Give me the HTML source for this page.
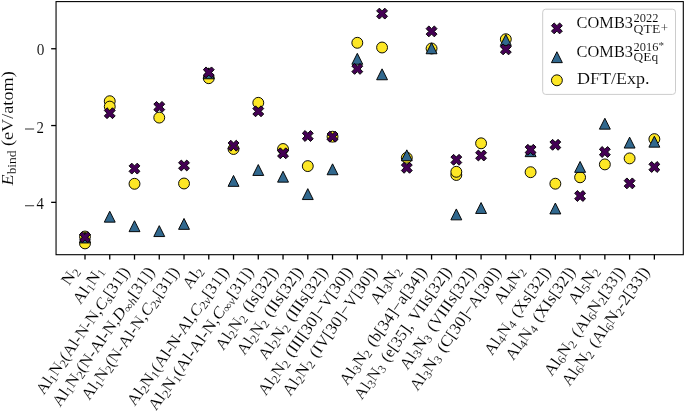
<!DOCTYPE html>
<html><head><meta charset="utf-8"><style>html,body{margin:0;padding:0;background:#fff;}</style></head><body>
<svg width="685" height="411" viewBox="0 0 685 411" style="display:block;font-family:'Liberation Serif', serif;will-change:transform">
<style>text{fill:#000;stroke:#fff;stroke-width:0.1px;}</style>
<rect x="0" y="0" width="685" height="411" fill="#fff"/>
<circle cx="85.00" cy="236.50" r="5.45" fill="#fde725" stroke="#000" stroke-width="0.95"/>
<circle cx="85.00" cy="243.40" r="5.45" fill="#fde725" stroke="#000" stroke-width="0.95"/>
<circle cx="109.75" cy="101.20" r="5.45" fill="#fde725" stroke="#000" stroke-width="0.95"/>
<circle cx="109.75" cy="106.60" r="5.45" fill="#fde725" stroke="#000" stroke-width="0.95"/>
<circle cx="134.51" cy="183.80" r="5.45" fill="#fde725" stroke="#000" stroke-width="0.95"/>
<circle cx="159.26" cy="117.60" r="5.45" fill="#fde725" stroke="#000" stroke-width="0.95"/>
<circle cx="184.02" cy="183.50" r="5.45" fill="#fde725" stroke="#000" stroke-width="0.95"/>
<circle cx="208.77" cy="78.20" r="5.45" fill="#fde725" stroke="#000" stroke-width="0.95"/>
<circle cx="233.53" cy="149.00" r="5.45" fill="#fde725" stroke="#000" stroke-width="0.95"/>
<circle cx="258.28" cy="102.80" r="5.45" fill="#fde725" stroke="#000" stroke-width="0.95"/>
<circle cx="283.04" cy="149.00" r="5.45" fill="#fde725" stroke="#000" stroke-width="0.95"/>
<circle cx="307.79" cy="166.10" r="5.45" fill="#fde725" stroke="#000" stroke-width="0.95"/>
<circle cx="332.55" cy="136.70" r="5.45" fill="#fde725" stroke="#000" stroke-width="0.95"/>
<circle cx="357.31" cy="42.80" r="5.45" fill="#fde725" stroke="#000" stroke-width="0.95"/>
<circle cx="382.06" cy="47.50" r="5.45" fill="#fde725" stroke="#000" stroke-width="0.95"/>
<circle cx="406.81" cy="157.80" r="5.45" fill="#fde725" stroke="#000" stroke-width="0.95"/>
<circle cx="431.57" cy="48.50" r="5.45" fill="#fde725" stroke="#000" stroke-width="0.95"/>
<circle cx="456.32" cy="175.00" r="5.45" fill="#fde725" stroke="#000" stroke-width="0.95"/>
<circle cx="456.32" cy="171.80" r="5.45" fill="#fde725" stroke="#000" stroke-width="0.95"/>
<circle cx="481.08" cy="143.30" r="5.45" fill="#fde725" stroke="#000" stroke-width="0.95"/>
<circle cx="505.83" cy="39.20" r="5.45" fill="#fde725" stroke="#000" stroke-width="0.95"/>
<circle cx="530.59" cy="172.20" r="5.45" fill="#fde725" stroke="#000" stroke-width="0.95"/>
<circle cx="555.35" cy="183.70" r="5.45" fill="#fde725" stroke="#000" stroke-width="0.95"/>
<circle cx="580.10" cy="177.30" r="5.45" fill="#fde725" stroke="#000" stroke-width="0.95"/>
<circle cx="604.86" cy="164.40" r="5.45" fill="#fde725" stroke="#000" stroke-width="0.95"/>
<circle cx="629.61" cy="158.40" r="5.45" fill="#fde725" stroke="#000" stroke-width="0.95"/>
<circle cx="654.37" cy="139.10" r="5.45" fill="#fde725" stroke="#000" stroke-width="0.95"/>
<polygon points="85.00,232.05 79.55,242.95 90.45,242.95" fill="#31688e" stroke="#000" stroke-width="0.95" stroke-linejoin="miter"/>
<polygon points="109.75,211.25 104.30,222.15 115.20,222.15" fill="#31688e" stroke="#000" stroke-width="0.95" stroke-linejoin="miter"/>
<polygon points="134.51,220.75 129.06,231.65 139.96,231.65" fill="#31688e" stroke="#000" stroke-width="0.95" stroke-linejoin="miter"/>
<polygon points="159.26,225.65 153.81,236.55 164.71,236.55" fill="#31688e" stroke="#000" stroke-width="0.95" stroke-linejoin="miter"/>
<polygon points="184.02,218.45 178.57,229.35 189.47,229.35" fill="#31688e" stroke="#000" stroke-width="0.95" stroke-linejoin="miter"/>
<polygon points="208.77,67.85 203.32,78.75 214.22,78.75" fill="#31688e" stroke="#000" stroke-width="0.95" stroke-linejoin="miter"/>
<polygon points="233.53,175.45 228.08,186.35 238.98,186.35" fill="#31688e" stroke="#000" stroke-width="0.95" stroke-linejoin="miter"/>
<polygon points="258.28,164.55 252.83,175.45 263.73,175.45" fill="#31688e" stroke="#000" stroke-width="0.95" stroke-linejoin="miter"/>
<polygon points="283.04,171.25 277.59,182.15 288.49,182.15" fill="#31688e" stroke="#000" stroke-width="0.95" stroke-linejoin="miter"/>
<polygon points="307.79,188.65 302.34,199.55 313.24,199.55" fill="#31688e" stroke="#000" stroke-width="0.95" stroke-linejoin="miter"/>
<polygon points="332.55,163.85 327.10,174.75 338.00,174.75" fill="#31688e" stroke="#000" stroke-width="0.95" stroke-linejoin="miter"/>
<polygon points="357.31,53.35 351.86,64.25 362.75,64.25" fill="#31688e" stroke="#000" stroke-width="0.95" stroke-linejoin="miter"/>
<polygon points="382.06,68.85 376.61,79.75 387.51,79.75" fill="#31688e" stroke="#000" stroke-width="0.95" stroke-linejoin="miter"/>
<polygon points="406.81,149.85 401.37,160.75 412.26,160.75" fill="#31688e" stroke="#000" stroke-width="0.95" stroke-linejoin="miter"/>
<polygon points="431.57,42.85 426.12,53.75 437.02,53.75" fill="#31688e" stroke="#000" stroke-width="0.95" stroke-linejoin="miter"/>
<polygon points="456.32,208.95 450.88,219.85 461.77,219.85" fill="#31688e" stroke="#000" stroke-width="0.95" stroke-linejoin="miter"/>
<polygon points="481.08,202.55 475.63,213.45 486.53,213.45" fill="#31688e" stroke="#000" stroke-width="0.95" stroke-linejoin="miter"/>
<polygon points="505.83,34.55 500.38,45.45 511.28,45.45" fill="#31688e" stroke="#000" stroke-width="0.95" stroke-linejoin="miter"/>
<polygon points="530.59,145.75 525.14,156.65 536.04,156.65" fill="#31688e" stroke="#000" stroke-width="0.95" stroke-linejoin="miter"/>
<polygon points="555.35,203.05 549.89,213.95 560.80,213.95" fill="#31688e" stroke="#000" stroke-width="0.95" stroke-linejoin="miter"/>
<polygon points="580.10,161.45 574.65,172.35 585.55,172.35" fill="#31688e" stroke="#000" stroke-width="0.95" stroke-linejoin="miter"/>
<polygon points="604.86,118.25 599.40,129.15 610.31,129.15" fill="#31688e" stroke="#000" stroke-width="0.95" stroke-linejoin="miter"/>
<polygon points="629.61,137.15 624.16,148.05 635.06,148.05" fill="#31688e" stroke="#000" stroke-width="0.95" stroke-linejoin="miter"/>
<polygon points="654.37,136.25 648.91,147.15 659.82,147.15" fill="#31688e" stroke="#000" stroke-width="0.95" stroke-linejoin="miter"/>
<polygon points="82.28,231.75 85.00,234.47 87.72,231.75 90.45,234.47 87.72,237.20 90.45,239.92 87.72,242.65 85.00,239.92 82.28,242.65 79.55,239.92 82.28,237.20 79.55,234.47" fill="#440154" stroke="#000" stroke-width="0.95" stroke-linejoin="miter"/>
<polygon points="107.03,107.75 109.75,110.48 112.48,107.75 115.20,110.48 112.48,113.20 115.20,115.92 112.48,118.65 109.75,115.92 107.03,118.65 104.30,115.92 107.03,113.20 104.30,110.48" fill="#440154" stroke="#000" stroke-width="0.95" stroke-linejoin="miter"/>
<polygon points="131.78,163.15 134.51,165.88 137.23,163.15 139.96,165.88 137.23,168.60 139.96,171.32 137.23,174.05 134.51,171.32 131.78,174.05 129.06,171.32 131.78,168.60 129.06,165.88" fill="#440154" stroke="#000" stroke-width="0.95" stroke-linejoin="miter"/>
<polygon points="156.54,101.45 159.26,104.18 161.99,101.45 164.71,104.18 161.99,106.90 164.71,109.62 161.99,112.35 159.26,109.62 156.54,112.35 153.81,109.62 156.54,106.90 153.81,104.18" fill="#440154" stroke="#000" stroke-width="0.95" stroke-linejoin="miter"/>
<polygon points="181.29,160.05 184.02,162.78 186.74,160.05 189.47,162.78 186.74,165.50 189.47,168.22 186.74,170.95 184.02,168.22 181.29,170.95 178.57,168.22 181.29,165.50 178.57,162.78" fill="#440154" stroke="#000" stroke-width="0.95" stroke-linejoin="miter"/>
<polygon points="206.05,66.95 208.77,69.68 211.50,66.95 214.22,69.68 211.50,72.40 214.22,75.12 211.50,77.85 208.77,75.12 206.05,77.85 203.32,75.12 206.05,72.40 203.32,69.68" fill="#440154" stroke="#000" stroke-width="0.95" stroke-linejoin="miter"/>
<polygon points="230.81,140.25 233.53,142.97 236.25,140.25 238.98,142.97 236.25,145.70 238.98,148.42 236.25,151.15 233.53,148.42 230.81,151.15 228.08,148.42 230.81,145.70 228.08,142.97" fill="#440154" stroke="#000" stroke-width="0.95" stroke-linejoin="miter"/>
<polygon points="255.56,105.85 258.28,108.58 261.01,105.85 263.73,108.58 261.01,111.30 263.73,114.02 261.01,116.75 258.28,114.02 255.56,116.75 252.83,114.02 255.56,111.30 252.83,108.58" fill="#440154" stroke="#000" stroke-width="0.95" stroke-linejoin="miter"/>
<polygon points="280.31,147.85 283.04,150.58 285.76,147.85 288.49,150.58 285.76,153.30 288.49,156.03 285.76,158.75 283.04,156.03 280.31,158.75 277.59,156.03 280.31,153.30 277.59,150.58" fill="#440154" stroke="#000" stroke-width="0.95" stroke-linejoin="miter"/>
<polygon points="305.07,130.55 307.79,133.28 310.52,130.55 313.24,133.28 310.52,136.00 313.24,138.72 310.52,141.45 307.79,138.72 305.07,141.45 302.34,138.72 305.07,136.00 302.34,133.28" fill="#440154" stroke="#000" stroke-width="0.95" stroke-linejoin="miter"/>
<polygon points="329.82,131.25 332.55,133.97 335.27,131.25 338.00,133.97 335.27,136.70 338.00,139.42 335.27,142.15 332.55,139.42 329.82,142.15 327.10,139.42 329.82,136.70 327.10,133.97" fill="#440154" stroke="#000" stroke-width="0.95" stroke-linejoin="miter"/>
<polygon points="354.58,63.45 357.31,66.18 360.03,63.45 362.75,66.18 360.03,68.90 362.75,71.62 360.03,74.35 357.31,71.62 354.58,74.35 351.86,71.62 354.58,68.90 351.86,66.18" fill="#440154" stroke="#000" stroke-width="0.95" stroke-linejoin="miter"/>
<polygon points="379.33,8.15 382.06,10.88 384.79,8.15 387.51,10.88 384.79,13.60 387.51,16.32 384.79,19.05 382.06,16.32 379.33,19.05 376.61,16.32 379.33,13.60 376.61,10.88" fill="#440154" stroke="#000" stroke-width="0.95" stroke-linejoin="miter"/>
<polygon points="404.09,162.35 406.81,165.08 409.54,162.35 412.26,165.08 409.54,167.80 412.26,170.53 409.54,173.25 406.81,170.53 404.09,173.25 401.37,170.53 404.09,167.80 401.37,165.08" fill="#440154" stroke="#000" stroke-width="0.95" stroke-linejoin="miter"/>
<polygon points="428.84,25.95 431.57,28.67 434.30,25.95 437.02,28.67 434.30,31.40 437.02,34.12 434.30,36.85 431.57,34.12 428.84,36.85 426.12,34.12 428.84,31.40 426.12,28.67" fill="#440154" stroke="#000" stroke-width="0.95" stroke-linejoin="miter"/>
<polygon points="453.60,154.35 456.32,157.08 459.05,154.35 461.77,157.08 459.05,159.80 461.77,162.53 459.05,165.25 456.32,162.53 453.60,165.25 450.88,162.53 453.60,159.80 450.88,157.08" fill="#440154" stroke="#000" stroke-width="0.95" stroke-linejoin="miter"/>
<polygon points="478.35,150.05 481.08,152.78 483.81,150.05 486.53,152.78 483.81,155.50 486.53,158.22 483.81,160.95 481.08,158.22 478.35,160.95 475.63,158.22 478.35,155.50 475.63,152.78" fill="#440154" stroke="#000" stroke-width="0.95" stroke-linejoin="miter"/>
<polygon points="503.11,43.95 505.83,46.67 508.56,43.95 511.28,46.67 508.56,49.40 511.28,52.12 508.56,54.85 505.83,52.12 503.11,54.85 500.38,52.12 503.11,49.40 500.38,46.67" fill="#440154" stroke="#000" stroke-width="0.95" stroke-linejoin="miter"/>
<polygon points="527.86,144.35 530.59,147.08 533.31,144.35 536.04,147.08 533.31,149.80 536.04,152.53 533.31,155.25 530.59,152.53 527.86,155.25 525.14,152.53 527.86,149.80 525.14,147.08" fill="#440154" stroke="#000" stroke-width="0.95" stroke-linejoin="miter"/>
<polygon points="552.62,139.35 555.35,142.08 558.07,139.35 560.80,142.08 558.07,144.80 560.80,147.53 558.07,150.25 555.35,147.53 552.62,150.25 549.89,147.53 552.62,144.80 549.89,142.08" fill="#440154" stroke="#000" stroke-width="0.95" stroke-linejoin="miter"/>
<polygon points="577.37,190.55 580.10,193.28 582.82,190.55 585.55,193.28 582.82,196.00 585.55,198.72 582.82,201.45 580.10,198.72 577.37,201.45 574.65,198.72 577.37,196.00 574.65,193.28" fill="#440154" stroke="#000" stroke-width="0.95" stroke-linejoin="miter"/>
<polygon points="602.13,146.55 604.86,149.28 607.58,146.55 610.31,149.28 607.58,152.00 610.31,154.72 607.58,157.45 604.86,154.72 602.13,157.45 599.40,154.72 602.13,152.00 599.40,149.28" fill="#440154" stroke="#000" stroke-width="0.95" stroke-linejoin="miter"/>
<polygon points="626.88,177.95 629.61,180.68 632.34,177.95 635.06,180.68 632.34,183.40 635.06,186.12 632.34,188.85 629.61,186.12 626.88,188.85 624.16,186.12 626.88,183.40 624.16,180.68" fill="#440154" stroke="#000" stroke-width="0.95" stroke-linejoin="miter"/>
<polygon points="651.64,161.55 654.37,164.28 657.09,161.55 659.82,164.28 657.09,167.00 659.82,169.72 657.09,172.45 654.37,169.72 651.64,172.45 648.91,169.72 651.64,167.00 648.91,164.28" fill="#440154" stroke="#000" stroke-width="0.95" stroke-linejoin="miter"/>
<rect x="56.05" y="1.6" width="627.25" height="253.1" fill="none" stroke="#000" stroke-width="1.1"/>
<line x1="85.00" y1="254.7" x2="85.00" y2="259.59999999999997" stroke="#000" stroke-width="1.3"/>
<line x1="109.75" y1="254.7" x2="109.75" y2="259.59999999999997" stroke="#000" stroke-width="1.3"/>
<line x1="134.51" y1="254.7" x2="134.51" y2="259.59999999999997" stroke="#000" stroke-width="1.3"/>
<line x1="159.26" y1="254.7" x2="159.26" y2="259.59999999999997" stroke="#000" stroke-width="1.3"/>
<line x1="184.02" y1="254.7" x2="184.02" y2="259.59999999999997" stroke="#000" stroke-width="1.3"/>
<line x1="208.77" y1="254.7" x2="208.77" y2="259.59999999999997" stroke="#000" stroke-width="1.3"/>
<line x1="233.53" y1="254.7" x2="233.53" y2="259.59999999999997" stroke="#000" stroke-width="1.3"/>
<line x1="258.28" y1="254.7" x2="258.28" y2="259.59999999999997" stroke="#000" stroke-width="1.3"/>
<line x1="283.04" y1="254.7" x2="283.04" y2="259.59999999999997" stroke="#000" stroke-width="1.3"/>
<line x1="307.79" y1="254.7" x2="307.79" y2="259.59999999999997" stroke="#000" stroke-width="1.3"/>
<line x1="332.55" y1="254.7" x2="332.55" y2="259.59999999999997" stroke="#000" stroke-width="1.3"/>
<line x1="357.31" y1="254.7" x2="357.31" y2="259.59999999999997" stroke="#000" stroke-width="1.3"/>
<line x1="382.06" y1="254.7" x2="382.06" y2="259.59999999999997" stroke="#000" stroke-width="1.3"/>
<line x1="406.81" y1="254.7" x2="406.81" y2="259.59999999999997" stroke="#000" stroke-width="1.3"/>
<line x1="431.57" y1="254.7" x2="431.57" y2="259.59999999999997" stroke="#000" stroke-width="1.3"/>
<line x1="456.32" y1="254.7" x2="456.32" y2="259.59999999999997" stroke="#000" stroke-width="1.3"/>
<line x1="481.08" y1="254.7" x2="481.08" y2="259.59999999999997" stroke="#000" stroke-width="1.3"/>
<line x1="505.83" y1="254.7" x2="505.83" y2="259.59999999999997" stroke="#000" stroke-width="1.3"/>
<line x1="530.59" y1="254.7" x2="530.59" y2="259.59999999999997" stroke="#000" stroke-width="1.3"/>
<line x1="555.35" y1="254.7" x2="555.35" y2="259.59999999999997" stroke="#000" stroke-width="1.3"/>
<line x1="580.10" y1="254.7" x2="580.10" y2="259.59999999999997" stroke="#000" stroke-width="1.3"/>
<line x1="604.86" y1="254.7" x2="604.86" y2="259.59999999999997" stroke="#000" stroke-width="1.3"/>
<line x1="629.61" y1="254.7" x2="629.61" y2="259.59999999999997" stroke="#000" stroke-width="1.3"/>
<line x1="654.37" y1="254.7" x2="654.37" y2="259.59999999999997" stroke="#000" stroke-width="1.3"/>
<line x1="51.15" y1="48.75" x2="56.05" y2="48.75" stroke="#000" stroke-width="1.3"/>
<line x1="51.15" y1="125.55" x2="56.05" y2="125.55" stroke="#000" stroke-width="1.3"/>
<line x1="51.15" y1="202.35" x2="56.05" y2="202.35" stroke="#000" stroke-width="1.3"/>
<text x="44.30" y="54.80" font-size="16.2" text-anchor="end" textLength="7.65" lengthAdjust="spacingAndGlyphs">0</text>
<text x="43.90" y="132.70" font-size="16.2" text-anchor="end" textLength="7.40" lengthAdjust="spacingAndGlyphs">2</text>
<text x="43.90" y="209.40" font-size="16.2" text-anchor="end" textLength="7.40" lengthAdjust="spacingAndGlyphs">4</text>
<rect x="25.0" y="128.6" width="9.1" height="0.8" fill="#000"/>
<rect x="25.0" y="205.4" width="9.1" height="0.8" fill="#000"/>
<text transform="translate(12.9,185.4) rotate(-90)" font-size="16.2" textLength="114.2" lengthAdjust="spacingAndGlyphs"><tspan font-style="italic">E</tspan><tspan font-size="11.8" dy="2.6">bind</tspan><tspan dy="-2.6"> (eV/atom)</tspan></text>
<text transform="translate(79.72,270.99) rotate(-55.0)" font-size="16.2" word-spacing="1.3" text-anchor="end" textLength="18.57" lengthAdjust="spacingAndGlyphs"><tspan>N</tspan><tspan font-size="11.8" dy="2.30">2</tspan></text>
<text transform="translate(104.47,271.08) rotate(-55.0)" font-size="16.2" word-spacing="1.3" text-anchor="end" textLength="41.65" lengthAdjust="spacingAndGlyphs"><tspan>Al</tspan><tspan font-size="11.8" dy="2.30">1</tspan><tspan dy="-2.30">N</tspan><tspan font-size="11.8" dy="2.30">1</tspan></text>
<text transform="translate(130.40,271.60) rotate(-55.0)" font-size="16.2" word-spacing="1.3" text-anchor="end" textLength="151.20" lengthAdjust="spacingAndGlyphs"><tspan>Al</tspan><tspan font-size="11.8" dy="2.30">1</tspan><tspan dy="-2.30">N</tspan><tspan font-size="11.8" dy="2.30">2</tspan><tspan dy="-2.30">(Al-N-N,</tspan><tspan font-style="italic">C</tspan><tspan font-size="11.8" font-style="italic" dy="2.30">s</tspan><tspan dy="-2.30">[31])</tspan></text>
<text transform="translate(155.15,271.60) rotate(-55.0)" font-size="16.2" word-spacing="1.3" text-anchor="end" textLength="166.10" lengthAdjust="spacingAndGlyphs"><tspan>Al</tspan><tspan font-size="11.8" dy="2.30">1</tspan><tspan dy="-2.30">N</tspan><tspan font-size="11.8" dy="2.30">2</tspan><tspan dy="-2.30">(N-Al-N,</tspan><tspan font-style="italic">D</tspan><tspan font-size="11.8" dy="2.30">∞</tspan><tspan font-size="11.8" font-style="italic">h</tspan><tspan dy="-2.30">[31])</tspan></text>
<text transform="translate(179.91,271.60) rotate(-55.0)" font-size="16.2" word-spacing="1.3" text-anchor="end" textLength="158.10" lengthAdjust="spacingAndGlyphs"><tspan>Al</tspan><tspan font-size="11.8" dy="2.30">1</tspan><tspan dy="-2.30">N</tspan><tspan font-size="11.8" dy="2.30">2</tspan><tspan dy="-2.30">(N-Al-N,</tspan><tspan font-style="italic">C</tspan><tspan font-size="11.8" dy="2.30">2</tspan><tspan font-size="11.8" font-style="italic">v</tspan><tspan dy="-2.30">[31])</tspan></text>
<text transform="translate(203.49,271.08) rotate(-55.0)" font-size="16.2" word-spacing="1.3" text-anchor="end" textLength="23.08" lengthAdjust="spacingAndGlyphs"><tspan>Al</tspan><tspan font-size="11.8" dy="2.30">2</tspan></text>
<text transform="translate(229.42,271.60) rotate(-55.0)" font-size="16.2" word-spacing="1.3" text-anchor="end" textLength="165.10" lengthAdjust="spacingAndGlyphs"><tspan>Al</tspan><tspan font-size="11.8" dy="2.30">2</tspan><tspan dy="-2.30">N</tspan><tspan font-size="11.8" dy="2.30">1</tspan><tspan dy="-2.30">(Al-N-Al,</tspan><tspan font-style="italic">C</tspan><tspan font-size="11.8" dy="2.30">2</tspan><tspan font-size="11.8" font-style="italic">v</tspan><tspan dy="-2.30">[31])</tspan></text>
<text transform="translate(254.17,271.60) rotate(-55.0)" font-size="16.2" word-spacing="1.3" text-anchor="end" textLength="170.95" lengthAdjust="spacingAndGlyphs"><tspan>Al</tspan><tspan font-size="11.8" dy="2.30">2</tspan><tspan dy="-2.30">N</tspan><tspan font-size="11.8" dy="2.30">1</tspan><tspan dy="-2.30">(Al-Al-N,</tspan><tspan font-style="italic">C</tspan><tspan font-size="11.8" dy="2.30">∞</tspan><tspan font-size="11.8" font-style="italic">v</tspan><tspan dy="-2.30">[31])</tspan></text>
<text transform="translate(278.93,271.60) rotate(-55.0)" font-size="16.2" word-spacing="1.3" text-anchor="end" textLength="97.20" lengthAdjust="spacingAndGlyphs"><tspan>Al</tspan><tspan font-size="11.8" dy="2.30">2</tspan><tspan dy="-2.30">N</tspan><tspan font-size="11.8" dy="2.30">2</tspan><tspan dy="-2.30"> (Is[32])</tspan></text>
<text transform="translate(303.68,271.60) rotate(-55.0)" font-size="16.2" word-spacing="1.3" text-anchor="end" textLength="103.00" lengthAdjust="spacingAndGlyphs"><tspan>Al</tspan><tspan font-size="11.8" dy="2.30">2</tspan><tspan dy="-2.30">N</tspan><tspan font-size="11.8" dy="2.30">2</tspan><tspan dy="-2.30"> (IIs[32])</tspan></text>
<text transform="translate(328.44,271.60) rotate(-55.0)" font-size="16.2" word-spacing="1.3" text-anchor="end" textLength="108.86" lengthAdjust="spacingAndGlyphs"><tspan>Al</tspan><tspan font-size="11.8" dy="2.30">2</tspan><tspan dy="-2.30">N</tspan><tspan font-size="11.8" dy="2.30">2</tspan><tspan dy="-2.30"> (IIIs[32])</tspan></text>
<text transform="translate(353.19,271.60) rotate(-55.0)" font-size="16.2" word-spacing="1.3" text-anchor="end" textLength="152.49" lengthAdjust="spacingAndGlyphs"><tspan>Al</tspan><tspan font-size="11.8" dy="2.30">2</tspan><tspan dy="-2.30">N</tspan><tspan font-size="11.8" dy="2.30">2</tspan><tspan dy="-2.30"> (III[30]−V[30])</tspan></text>
<text transform="translate(377.95,271.60) rotate(-55.0)" font-size="16.2" word-spacing="1.3" text-anchor="end" textLength="152.94" lengthAdjust="spacingAndGlyphs"><tspan>Al</tspan><tspan font-size="11.8" dy="2.30">2</tspan><tspan dy="-2.30">N</tspan><tspan font-size="11.8" dy="2.30">2</tspan><tspan dy="-2.30"> (IV[30]−V[30])</tspan></text>
<text transform="translate(401.53,271.08) rotate(-55.0)" font-size="16.2" word-spacing="1.3" text-anchor="end" textLength="41.65" lengthAdjust="spacingAndGlyphs"><tspan>Al</tspan><tspan font-size="11.8" dy="2.30">3</tspan><tspan dy="-2.30">N</tspan><tspan font-size="11.8" dy="2.30">2</tspan></text>
<text transform="translate(427.46,271.60) rotate(-55.0)" font-size="16.2" word-spacing="1.3" text-anchor="end" textLength="139.88" lengthAdjust="spacingAndGlyphs"><tspan>Al</tspan><tspan font-size="11.8" dy="2.30">3</tspan><tspan dy="-2.30">N</tspan><tspan font-size="11.8" dy="2.30">2</tspan><tspan dy="-2.30"> (b[34]−a[34])</tspan></text>
<text transform="translate(452.21,271.60) rotate(-55.0)" font-size="16.2" word-spacing="1.3" text-anchor="end" textLength="157.51" lengthAdjust="spacingAndGlyphs"><tspan>Al</tspan><tspan font-size="11.8" dy="2.30">3</tspan><tspan dy="-2.30">N</tspan><tspan font-size="11.8" dy="2.30">3</tspan><tspan dy="-2.30"> (e[35], VIIs[32])</tspan></text>
<text transform="translate(476.97,271.60) rotate(-55.0)" font-size="16.2" word-spacing="1.3" text-anchor="end" textLength="121.02" lengthAdjust="spacingAndGlyphs"><tspan>Al</tspan><tspan font-size="11.8" dy="2.30">3</tspan><tspan dy="-2.30">N</tspan><tspan font-size="11.8" dy="2.30">3</tspan><tspan dy="-2.30"> (VIIIs[32])</tspan></text>
<text transform="translate(501.72,271.60) rotate(-55.0)" font-size="16.2" word-spacing="1.3" text-anchor="end" textLength="146.63" lengthAdjust="spacingAndGlyphs"><tspan>Al</tspan><tspan font-size="11.8" dy="2.30">3</tspan><tspan dy="-2.30">N</tspan><tspan font-size="11.8" dy="2.30">3</tspan><tspan dy="-2.30"> (C[30]−A[30])</tspan></text>
<text transform="translate(525.31,271.08) rotate(-55.0)" font-size="16.2" word-spacing="1.3" text-anchor="end" textLength="41.65" lengthAdjust="spacingAndGlyphs"><tspan>Al</tspan><tspan font-size="11.8" dy="2.30">4</tspan><tspan dy="-2.30">N</tspan><tspan font-size="11.8" dy="2.30">2</tspan></text>
<text transform="translate(551.23,271.60) rotate(-55.0)" font-size="16.2" word-spacing="1.3" text-anchor="end" textLength="103.46" lengthAdjust="spacingAndGlyphs"><tspan>Al</tspan><tspan font-size="11.8" dy="2.30">4</tspan><tspan dy="-2.30">N</tspan><tspan font-size="11.8" dy="2.30">4</tspan><tspan dy="-2.30"> (Xs[32])</tspan></text>
<text transform="translate(575.99,271.60) rotate(-55.0)" font-size="16.2" word-spacing="1.3" text-anchor="end" textLength="109.31" lengthAdjust="spacingAndGlyphs"><tspan>Al</tspan><tspan font-size="11.8" dy="2.30">4</tspan><tspan dy="-2.30">N</tspan><tspan font-size="11.8" dy="2.30">4</tspan><tspan dy="-2.30"> (XIs[32])</tspan></text>
<text transform="translate(599.57,271.08) rotate(-55.0)" font-size="16.2" word-spacing="1.3" text-anchor="end" textLength="41.65" lengthAdjust="spacingAndGlyphs"><tspan>Al</tspan><tspan font-size="11.8" dy="2.30">5</tspan><tspan dy="-2.30">N</tspan><tspan font-size="11.8" dy="2.30">2</tspan></text>
<text transform="translate(625.50,271.60) rotate(-55.0)" font-size="16.2" word-spacing="1.3" text-anchor="end" textLength="128.80" lengthAdjust="spacingAndGlyphs"><tspan>Al</tspan><tspan font-size="11.8" dy="2.30">6</tspan><tspan dy="-2.30">N</tspan><tspan font-size="11.8" dy="2.30">2</tspan><tspan dy="-2.30"> (Al</tspan><tspan font-size="11.8" dy="2.30">6</tspan><tspan dy="-2.30">N</tspan><tspan font-size="11.8" dy="2.30">2</tspan><tspan dy="-2.30">[33])</tspan></text>
<text transform="translate(650.25,271.60) rotate(-55.0)" font-size="16.2" word-spacing="1.3" text-anchor="end" textLength="140.90" lengthAdjust="spacingAndGlyphs"><tspan>Al</tspan><tspan font-size="11.8" dy="2.30">6</tspan><tspan dy="-2.30">N</tspan><tspan font-size="11.8" dy="2.30">2</tspan><tspan dy="-2.30"> (Al</tspan><tspan font-size="11.8" dy="2.30">6</tspan><tspan dy="-2.30">N</tspan><tspan font-size="11.8" dy="2.30">2</tspan><tspan dy="-2.30">-2[33])</tspan></text>
<rect x="542.7" y="9.2" width="132.8" height="85.2" rx="3" ry="3" fill="#fff" fill-opacity="0.8" stroke="#cccccc" stroke-width="1"/>
<polygon points="554.17,22.95 556.90,25.67 559.62,22.95 562.35,25.67 559.62,28.40 562.35,31.12 559.62,33.85 556.90,31.12 554.17,33.85 551.45,31.12 554.17,28.40 551.45,25.67" fill="#440154" stroke="#000" stroke-width="0.95" stroke-linejoin="miter"/>
<polygon points="556.90,51.75 551.45,62.65 562.35,62.65" fill="#31688e" stroke="#000" stroke-width="0.95" stroke-linejoin="miter"/>
<circle cx="556.90" cy="80.30" r="5.45" fill="#fde725" stroke="#000" stroke-width="0.95"/>
<text x="576.60" y="27.70" font-size="16.2" text-anchor="start" textLength="56.40" lengthAdjust="spacingAndGlyphs">COMB3</text>
<text x="633.60" y="22.10" font-size="11.6" text-anchor="start" textLength="24.80" lengthAdjust="spacingAndGlyphs">2022</text>
<text x="633.60" y="32.60" font-size="11.6" text-anchor="start" textLength="26.80" lengthAdjust="spacingAndGlyphs">QTE</text>
<text x="660.70" y="31.60" font-size="12.8" text-anchor="start">+</text>
<text x="576.60" y="57.00" font-size="16.2" text-anchor="start" textLength="56.40" lengthAdjust="spacingAndGlyphs">COMB3</text>
<text x="633.60" y="50.90" font-size="11.6" text-anchor="start" textLength="24.80" lengthAdjust="spacingAndGlyphs">2016</text>
<text x="658.60" y="49.30" font-size="11" text-anchor="start">*</text>
<text x="633.60" y="60.90" font-size="11.6" text-anchor="start" textLength="24.60" lengthAdjust="spacingAndGlyphs">QEq</text>
<text x="577.00" y="84.30" font-size="16.2" text-anchor="start" textLength="72.60" lengthAdjust="spacingAndGlyphs">DFT/Exp.</text>
</svg>
</body></html>
